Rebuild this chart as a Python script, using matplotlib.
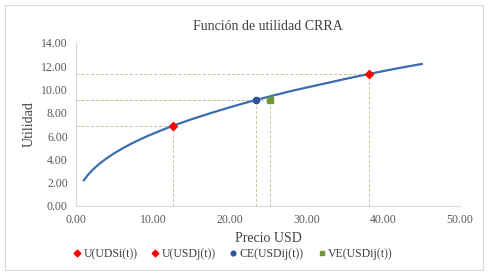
import matplotlib.pyplot as plt
from matplotlib.patches import Rectangle

plt.rcParams['font.family'] = ['Liberation Serif', 'DejaVu Serif']

# Curva de utilidad
precio = [1, 1.25, 1.5, 2, 2.5, 3, 3.5, 4, 5, 6, 7, 8, 9, 10, 11, 12.5, 15,
          17.5, 20, 22.5, 25, 27.5, 30, 32.5, 35, 37.5, 40, 42.5, 45]
utilidad = [2.2, 2.42, 2.64, 3.0, 3.32, 3.6, 3.86, 4.1, 4.54, 4.93, 5.29, 5.61,
            5.92, 6.2, 6.47, 6.86, 7.44, 7.97, 8.47, 8.94, 9.37, 9.79, 10.17,
            10.53, 10.9, 11.25, 11.58, 11.9, 12.19]

# Puntos destacados
puntos_x = [12.6, 38.1, 23.4, 25.3]
puntos_y = [6.9, 11.3, 9.12, 9.12]
etiquetas = ['U(UDSi(t))', 'U(USDj(t))', 'CE(USDij(t))', 'VE(USDij(t))']
colores = ['#ff0000', '#ff0000', '#2f5597', '#70963a']
marcadores = ['D', 'D', 'o', 's']

fig = plt.figure(figsize=(4.88, 2.75), dpi=100)
fig.patches.append(Rectangle((0.01, 0.018), 0.98, 0.964, transform=fig.transFigure,
                             fill=False, edgecolor='#d9d9d9', lw=0.8))
ax = fig.add_axes([0.156, 0.251, 0.787, 0.593])

guia = '#cdbf9f'
for x, y in zip(puntos_x, puntos_y):
    ax.plot([0, x], [y, y], ls=(0, (3, 2)), color=guia, lw=0.7, zorder=1)
    ax.plot([x, x], [0, y], ls=(0, (3, 2)), color=guia, lw=0.7, zorder=1)

ax.plot(precio, utilidad, color='#3c6db0', lw=1.6, zorder=2)

for x, y, lab, c, m in zip(puntos_x, puntos_y, etiquetas, colores, marcadores):
    ax.plot([x], [y], ls='none', marker=m, color=c, markersize=4.5, label=lab, zorder=3)

ax.set_xlim(0, 50)
ax.set_ylim(0, 14)
ax.set_xticks(range(0, 51, 10))
ax.set_yticks(range(0, 15, 2))
ax.xaxis.set_major_formatter(lambda v, p: f'{v:.2f}')
ax.yaxis.set_major_formatter(lambda v, p: f'{v:.2f}')
ax.tick_params(labelsize=8.5, colors='#595959', length=0, pad=6)
for s in ['top', 'right']:
    ax.spines[s].set_visible(False)
for s in ['left', 'bottom']:
    ax.spines[s].set_color('#d9d9d9')

ax.set_title('Función de utilidad CRRA', fontsize=10, color='#404040', pad=9)
ax.set_xlabel('Precio USD', fontsize=10, color='#404040', labelpad=4)
ax.set_ylabel('Utilidad', fontsize=10, color='#404040', labelpad=4)

fig.legend(loc='center', bbox_to_anchor=(0.475, 0.075), ncol=4, frameon=False,
           fontsize=8.5, handletextpad=0.05, columnspacing=1.0, markerscale=0.75,
           handlelength=1.0, labelcolor='#404040')

fig.savefig('out.png', dpi=100)
